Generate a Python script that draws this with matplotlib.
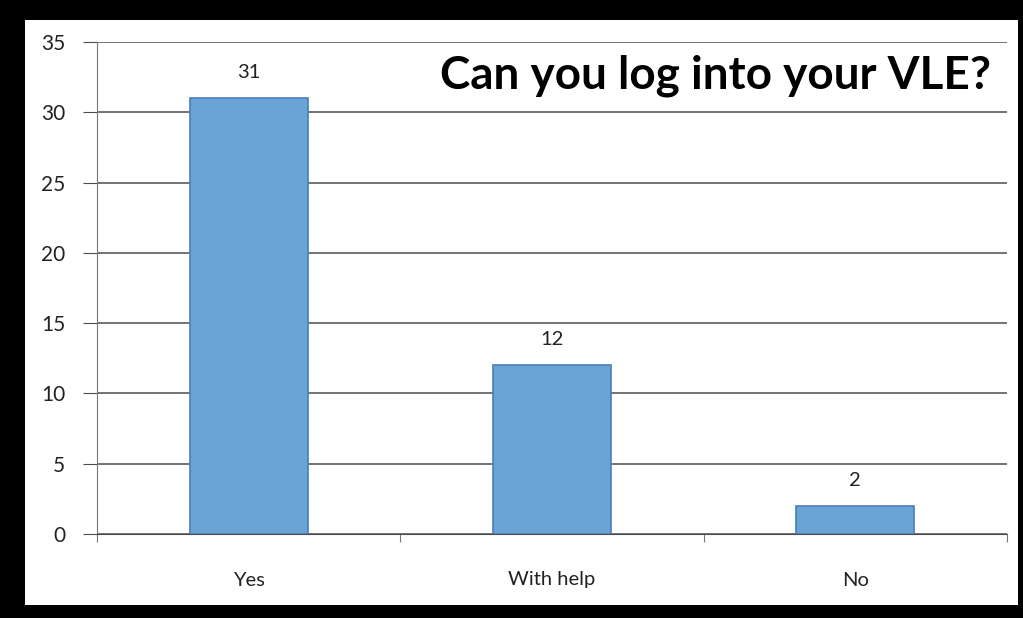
import matplotlib.pyplot as plt
import matplotlib.patches as mpatches
import numpy as np

categories = ['Yes', 'With help', 'No']
counts = [31, 12, 2]
yticks = [0, 5, 10, 15, 20, 25, 30, 35]

plt.rcParams['font.family'] = ['Lato', 'DejaVu Sans']

fig = plt.figure(figsize=(10.23, 6.18), dpi=100, facecolor='black')
# white card inside the black frame
fig.patches.append(mpatches.Rectangle((25 / 1023, 13 / 618), (1018 - 25) / 1023, (598 - 13) / 618,
                                      transform=fig.transFigure, facecolor='white',
                                      edgecolor='none', zorder=-10))

ax = fig.add_axes([97 / 1023, 84 / 618, 910 / 1023, 492 / 618])
ax.set_facecolor('none')

x = np.arange(len(categories))
bars = ax.bar(x, counts, width=0.39, color='#6aa3d5', edgecolor='#4a7ebb', linewidth=1.2, zorder=3)

for b, v in zip(bars, counts):
    ax.text(b.get_x() + b.get_width() / 2, v + 1.2, str(v), ha='center', va='bottom',
            fontsize=14.5, color='#222222')

ax.set_xlim(-0.5, 2.5)
ax.set_ylim(0, 35)
ax.set_yticks(yticks)
ax.yaxis.grid(True, color='#4d4d4d', linewidth=1.1, zorder=1)
ax.set_axisbelow(True)

# category labels between boundary ticks
ax.set_xticks([-0.5, 0.5, 1.5, 2.5])
ax.set_xticklabels([])
ax.set_xticks(x, minor=True)
ax.set_xticklabels(categories, minor=True, fontsize=14.5, color='#222222')
ax.tick_params(axis='x', which='minor', length=0, pad=27)
ax.tick_params(axis='x', which='major', length=6, color='#777777')
ax.tick_params(axis='y', length=10, color='#4d4d4d', labelsize=15, labelcolor='#222222', pad=13)

for s in ['top', 'right']:
    ax.spines[s].set_visible(False)
ax.spines['left'].set_color('#777777')
ax.spines['bottom'].set_color('#4d4d4d')

ax.text(0.982, 0.975, 'Can you log into your VLE?', transform=ax.transAxes, ha='right', va='top',
        fontsize=33, fontweight='bold', color='black')

fig.savefig('out.png', dpi=100, facecolor='black')
